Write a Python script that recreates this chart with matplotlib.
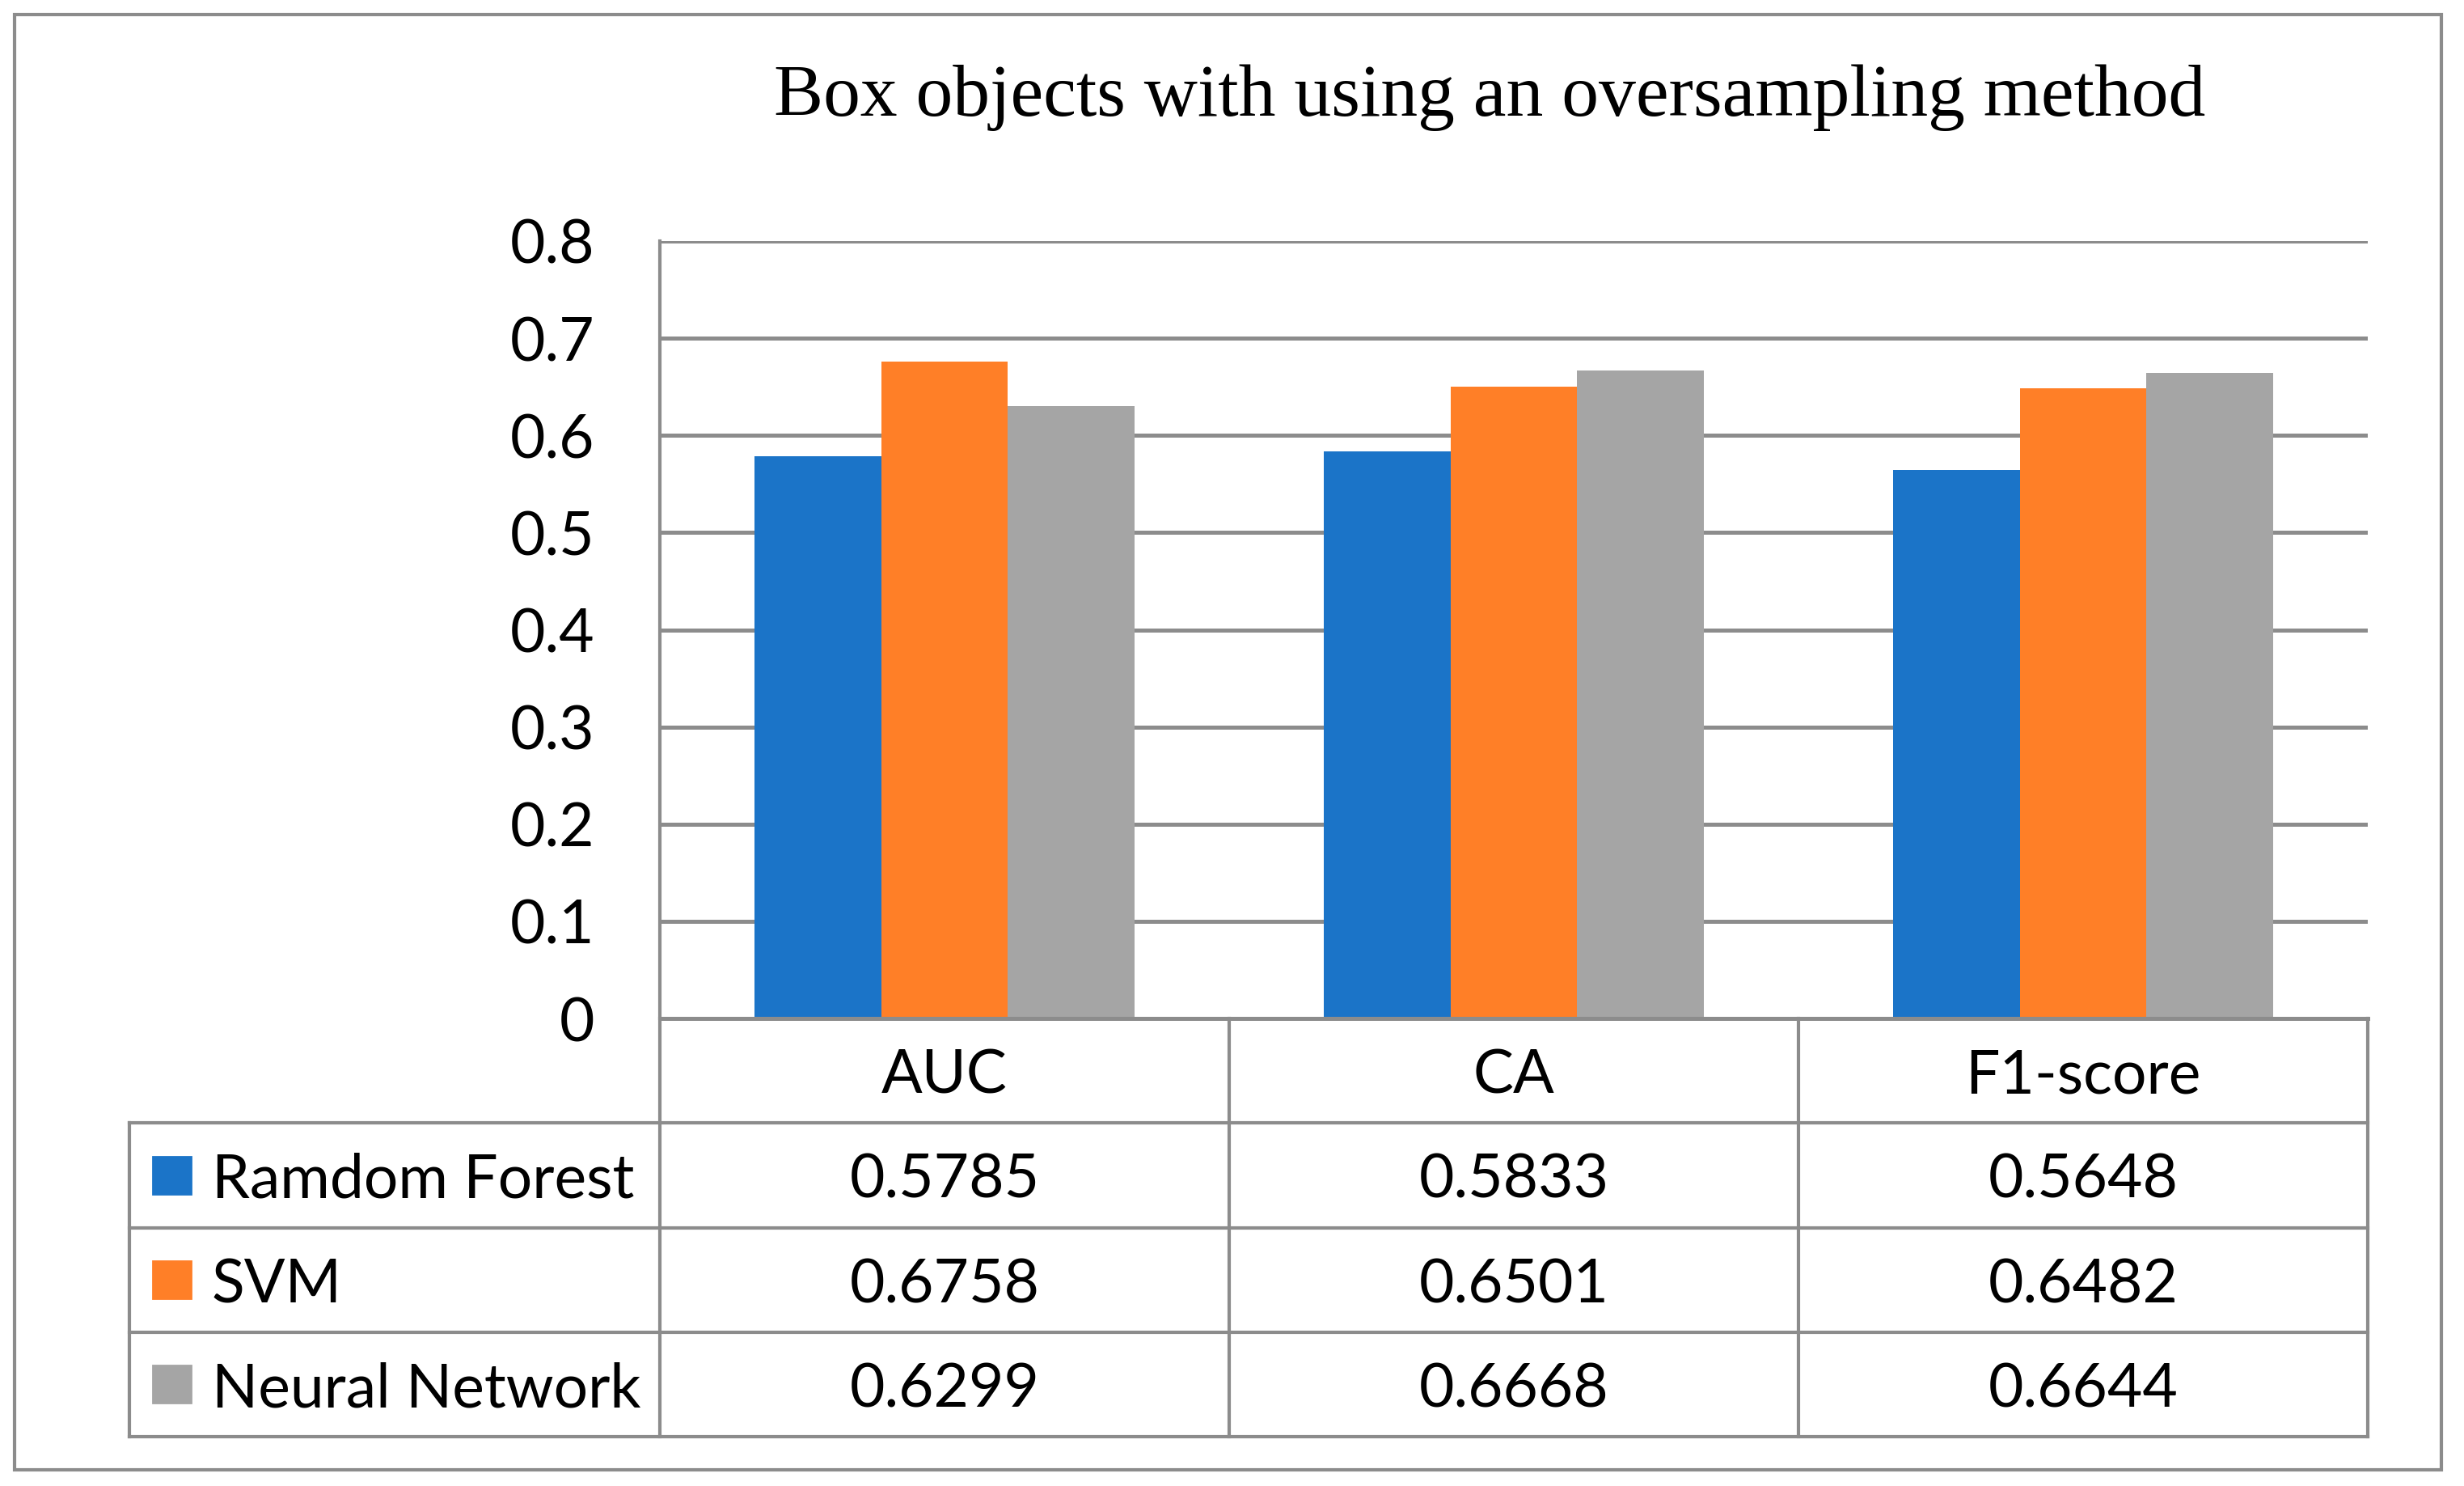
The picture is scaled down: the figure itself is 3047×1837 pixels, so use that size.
import numpy as np
import matplotlib
matplotlib.use("Agg")
import matplotlib.pyplot as plt
from matplotlib.patches import Rectangle

# data
categories = ["AUC", "CA", "F1-score"]
models = ["Ramdom Forest", "SVM", "Neural Network"]
rf_vals = [0.5785, 0.5833, 0.5648]
svm_vals = [0.6758, 0.6501, 0.6482]
nn_vals = [0.6299, 0.6668, 0.6644]
yticks = [0, 0.1, 0.2, 0.3, 0.4, 0.5, 0.6, 0.7, 0.8]
ytick_labels = ["0", "0.1", "0.2", "0.3", "0.4", "0.5", "0.6", "0.7", "0.8"]
title = "Box objects with using an oversampling method"

colors = ["#1B74C8", "#FF7F27", "#A5A5A5"]
linec = "#8C8C8C"

W, H = 3047, 1837
DPI = 200
plt.rcParams['font.family'] = ['Lato', 'DejaVu Sans']

fig = plt.figure(figsize=(W / DPI, H / DPI), dpi=DPI)

# plot area (pixel layout of the original)
x0, x1 = 816, 2928
ytop, y0 = 298, 1259
ax = fig.add_axes([x0 / W, 1 - y0 / H, (x1 - x0) / W, (y0 - ytop) / H])

series = [rf_vals, svm_vals, nn_vals]
x = np.arange(len(categories))
width = 0.223
for i, vals in enumerate(series):
    ax.bar(x + (i - 1) * width, vals, width, color=colors[i], zorder=2)

ax.set_xlim(-0.5, len(categories) - 0.5)
ax.set_ylim(0, 0.8)
ax.set_yticks(yticks)
ax.set_yticklabels(ytick_labels)
ax.set_xticks([])
ax.yaxis.grid(True, color=linec, lw=1.8, zorder=0)
ax.set_axisbelow(True)
for s in ["top", "right", "bottom"]:
    ax.spines[s].set_visible(False)
ax.spines["left"].set_color(linec)
ax.spines["left"].set_linewidth(1.5)
ax.tick_params(axis="y", length=0, pad=29, labelsize=27)

# data table under the plot
tx0, tbot = 160, 1776
col_w = (x1 - x0) / len(categories)
leg_w = (x0 - tx0) / col_w
tab = fig.add_axes([tx0 / W, 1 - tbot / H, (x1 - tx0) / W, (tbot - y0) / H])
nrows = len(models) + 1
tab.set_xlim(-0.5 - leg_w, len(categories) - 0.5)
tab.set_ylim(nrows, 0)
tab.axis("off")

left = -0.5 - leg_w
right = len(categories) - 0.5
tab.plot([-0.5, right], [0, 0], color=linec, lw=1.8, clip_on=False)
for r in range(1, nrows + 1):
    tab.plot([left, right], [r, r], color=linec, lw=1.5, clip_on=False)
for k in range(len(categories) + 1):
    tab.plot([-0.5 + k, -0.5 + k], [0, nrows], color=linec, lw=1.5, clip_on=False)
tab.plot([left, left], [1, nrows], color=linec, lw=1.5, clip_on=False)

for j, cat in enumerate(categories):
    tab.text(j, 0.5, cat, ha="center", va="center_baseline", fontsize=27)

for i, (name, vals) in enumerate(zip(models, series)):
    r = i + 1
    sw_x = left + 29 / col_w
    sw_w = 47 / col_w
    sw_h = 46 / 129
    tab.add_patch(Rectangle((sw_x, r + 0.5 - sw_h / 2), sw_w, sw_h,
                            color=colors[i], clip_on=False))
    tab.text(left + 102 / col_w, r + 0.5, name, ha="left", va="center_baseline",
             fontsize=27)
    for j, v in enumerate(vals):
        tab.text(j, r + 0.5, "{:.4f}".format(v), ha="center",
                 va="center_baseline", fontsize=27)

# title and outer frame
fig.text(1842 / W, 1 - 143 / H, title, ha="center", va="baseline",
         family="Liberation Serif", fontsize=33)
fig.patches.append(Rectangle((18 / W, 1 - 1817 / H), (3019 - 18) / W, (1817 - 18) / H,
                             transform=fig.transFigure, fill=False, ec=linec, lw=1.5))

fig.savefig("out.png", dpi=DPI)
